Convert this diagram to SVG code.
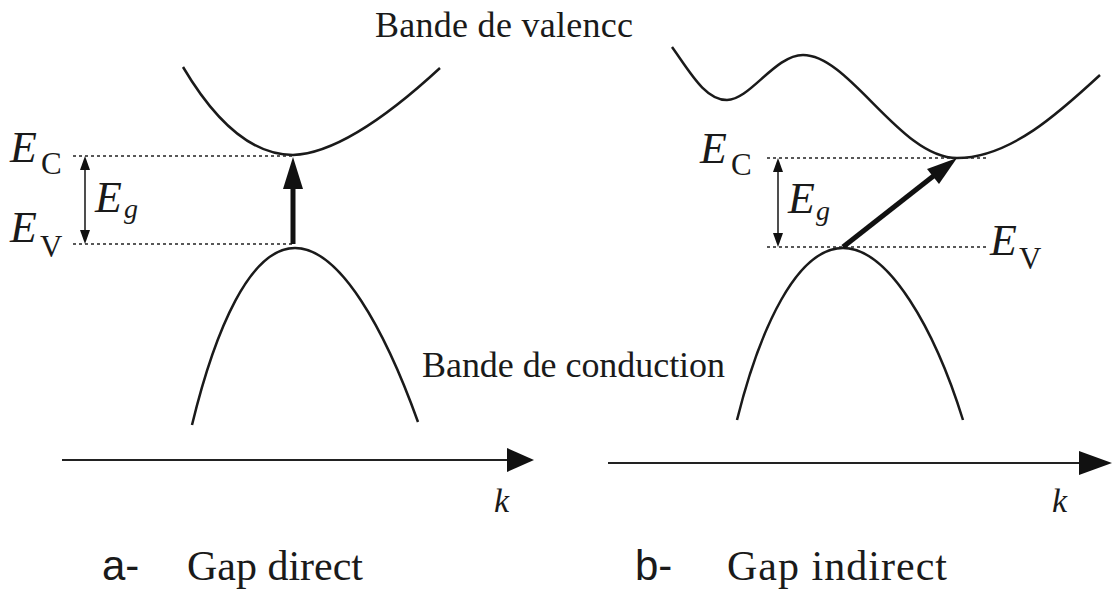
<svg xmlns="http://www.w3.org/2000/svg" width="1113" height="592" viewBox="0 0 1113 592">
<style>
.curve{fill:none;stroke:#1a1a1a;stroke-width:2.5}
.dot{stroke:#222;stroke-width:1.6;stroke-dasharray:3,3;fill:none}
.thin{stroke:#222;stroke-width:1.6;fill:none}
.head{fill:#111;stroke:none}
.ser{font-family:"Liberation Serif",serif;fill:#1a1a1a}
.it{font-family:"Liberation Serif",serif;font-style:italic;fill:#1a1a1a}
.sans{font-family:"Liberation Sans",sans-serif;fill:#1a1a1a}
</style>
<rect width="1113" height="592" fill="#fff"/>

<g id="labels-top">
<text class="ser" x="375" y="37" font-size="36" textLength="258">Bande de valencc</text>
<text class="ser" x="422" y="377" font-size="36" textLength="303">Bande de conduction</text>
</g>

<g id="panel-a">
<path class="curve" d="M183,67 Q235,155 293,155 Q348,153 440,68"/>
<path class="curve" d="M192,425 C215,330 250,248 295,248 C340,248 385,330 418,422"/>
<line class="dot" x1="73" y1="156" x2="292" y2="156"/>
<line class="dot" x1="73" y1="244" x2="295" y2="244"/>
<g id="eg-a">
<line class="thin" x1="85" y1="168" x2="85" y2="232"/>
<polygon class="head" points="85,156 80,170 90,170"/>
<polygon class="head" points="85,244 80,230 90,230"/>
</g>
<text class="it" x="10" y="162" font-size="44">E</text>
<text class="ser" x="41" y="174" font-size="31">C</text>
<text class="it" x="10" y="242" font-size="44">E</text>
<text class="ser" x="40" y="257" font-size="31">V</text>
<text class="it" x="95" y="212" font-size="44">E</text>
<text class="it" x="124" y="218" font-size="28">g</text>
</g>

<g id="panel-b">
<path class="curve" d="M672,47 C690,72 705,100 727,100 C750,100 775,55 803,55 C850,55 900,158 957,158 C1010,158 1060,112 1100,75"/>
<path class="curve" d="M737,420 C760,328 797,248 843,248 C889,248 935,330 963,420"/>
<line class="dot" x1="767" y1="158" x2="987" y2="158"/>
<line class="dot" x1="767" y1="247" x2="987" y2="247"/>
<g id="eg-b">
<line class="thin" x1="778" y1="170" x2="778" y2="235"/>
<polygon class="head" points="778,158 773,172 783,172"/>
<polygon class="head" points="778,247 773,233 783,233"/>
</g>
<text class="it" x="700" y="163" font-size="44">E</text>
<text class="ser" x="731" y="175" font-size="31">C</text>
<text class="it" x="788" y="213" font-size="44">E</text>
<text class="it" x="816" y="220" font-size="28">g</text>
<text class="it" x="990" y="255" font-size="44">E</text>
<text class="ser" x="1019" y="269" font-size="31">V</text>
</g>

<g id="connectors">
<line stroke="#111" stroke-width="5" x1="293" y1="244" x2="293" y2="185"/>
<polygon class="head" points="293,157 283,189 303,189"/>
<line stroke="#111" stroke-width="5" x1="843" y1="247" x2="936" y2="174"/>
<polygon class="head" points="957,158 939,184 927,169"/>
</g>

<g id="axis-a">
<line stroke="#222" stroke-width="2" x1="62" y1="460" x2="512" y2="460"/>
<polygon class="head" points="507,448 534,460 507,472"/>
<text class="it" x="494" y="512" font-size="34">k</text>
<text class="sans" x="102" y="580" font-size="42">a-</text>
<text class="ser" x="187" y="580" font-size="42" textLength="176">Gap direct</text>
</g>

<g id="axis-b">
<line stroke="#222" stroke-width="2" x1="608" y1="463" x2="1085" y2="463"/>
<polygon class="head" points="1079,451 1112,463 1079,475"/>
<text class="it" x="1052" y="512" font-size="34">k</text>
<text class="sans" x="635" y="580" font-size="42">b-</text>
<text class="ser" x="727" y="580" font-size="42" textLength="220">Gap indirect</text>
</g>
</svg>
